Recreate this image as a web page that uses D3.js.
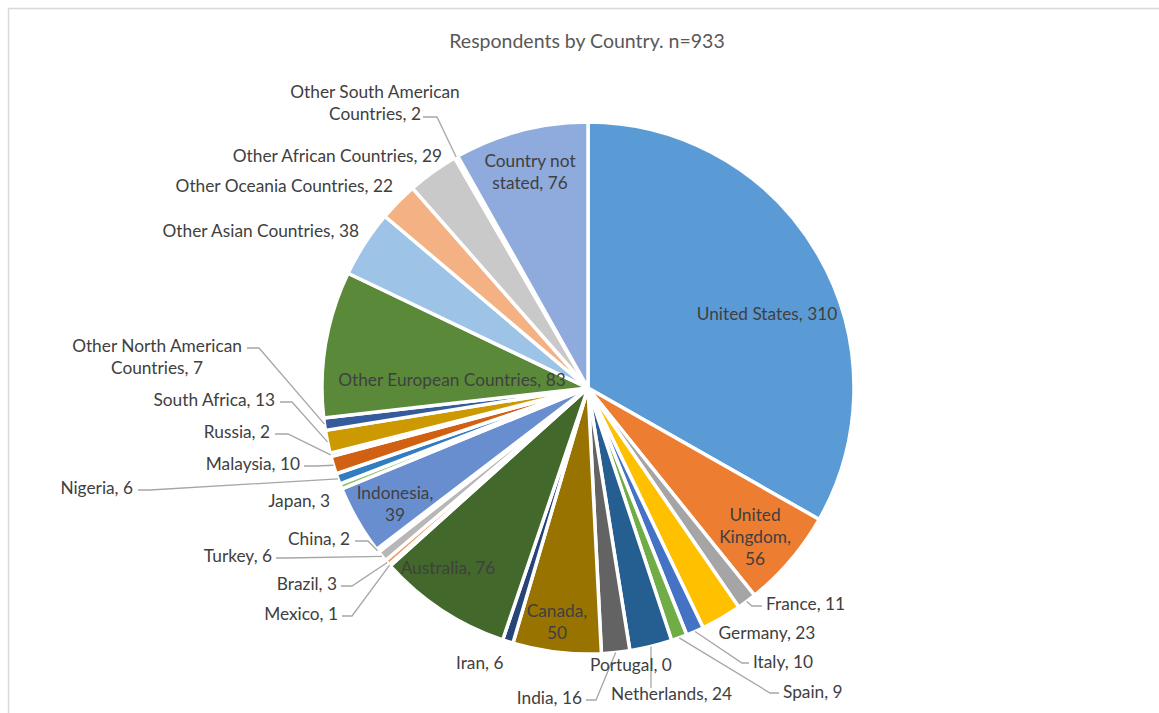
<!DOCTYPE html>
<html>
<head>
<meta charset="utf-8">
<script src="https://cdn.jsdelivr.net/npm/d3@7"></script>
<style>
  html, body { margin: 0; padding: 0; background: #fff; }
  svg { display: block; }
  text { font-family: Lato, "Open Sans", sans-serif; }
</style>
</head>
<body>
<svg id="chart" width="1159" height="713"></svg>
<script>
// Respondent counts by country, in slice order (clockwise from 12 o'clock)
const countries = [
  "United States", "United Kingdom", "France", "Germany", "Italy", "Spain",
  "Netherlands", "Portugal", "India", "Canada", "Iran", "Australia",
  "Mexico", "Brazil", "Turkey", "China", "Indonesia", "Japan",
  "Nigeria", "Malaysia", "Russia", "South Africa",
  "Other North American Countries", "Other European Countries",
  "Other Asian Countries", "Other Oceania Countries",
  "Other African Countries", "Other South American Countries",
  "Country not stated"
];
const respondents = [
  310, 56, 11, 23, 10, 9,
  24, 0, 16, 50, 6, 76,
  1, 3, 6, 2, 39, 3,
  6, 10, 2, 13,
  7, 83,
  38, 22,
  29, 2,
  76
];
const sliceColors = [
  "#5B9BD5", "#ED7D31", "#A5A5A5", "#FFC000", "#4472C4", "#70AD47",
  "#255E91", "#9E480E", "#636363", "#997300", "#264478", "#43682B",
  "#7CAFDD", "#F1975A", "#B7B7B7", "#FFCD33", "#698ED0", "#8CC168",
  "#327DC2", "#D26012", "#848484", "#CC9A00", "#365B9D", "#5A8A39",
  "#9DC3E6", "#F4B183", "#C9C9C9", "#FFD966", "#8FAADC"
];
const chartTitle = "Respondents by Country. n=933";

// Label placement: text lines, anchor point, and optional leader-line bend/end
const labelLayout = {
  "United States":      { lines: ["United States, 310"], x: 767, y: 320, anchor: "middle" },
  "United Kingdom":     { lines: ["United", "Kingdom,", "56"], x: 755, y: 521, anchor: "middle" },
  "France":             { lines: ["France, 11"], x: 766, y: 610, anchor: "start", bend: [752, 606], end: [762, 606] },
  "Germany":            { lines: ["Germany, 23"], x: 767, y: 639, anchor: "middle" },
  "Italy":              { lines: ["Italy, 10"], x: 753, y: 668, anchor: "start", bend: [742, 663], end: [749, 663] },
  "Spain":              { lines: ["Spain, 9"], x: 783, y: 698, anchor: "start", bend: [770, 693], end: [779, 693] },
  "Netherlands":        { lines: ["Netherlands, 24"], x: 611, y: 700, anchor: "start", bend: null, end: "vertical", endY: 688 },
  "Portugal":           { lines: ["Portugal, 0"], x: 590, y: 671, anchor: "start" },
  "India":              { lines: ["India, 16"], x: 582, y: 704, anchor: "end", bend: [596, 700], end: [586, 700] },
  "Canada":             { lines: ["Canada,", "50"], x: 557, y: 617, anchor: "middle" },
  "Iran":               { lines: ["Iran, 6"], x: 456, y: 669, anchor: "start" },
  "Australia":          { lines: ["Australia, 76"], x: 448, y: 574, anchor: "middle" },
  "Mexico":             { lines: ["Mexico, 1"], x: 338, y: 620, anchor: "end", bend: [352, 616], end: [342, 616] },
  "Brazil":             { lines: ["Brazil, 3"], x: 337, y: 590, anchor: "end", bend: [352, 586], end: [341, 586] },
  "Turkey":             { lines: ["Turkey, 6"], x: 272, y: 562, anchor: "end", bend: [286, 558], end: [276, 558] },
  "China":              { lines: ["China, 2"], x: 350, y: 545, anchor: "end", bend: [368, 541], end: [355, 541] },
  "Indonesia":          { lines: ["Indonesia,", "39"], x: 395, y: 499, anchor: "middle" },
  "Japan":              { lines: ["Japan, 3"], x: 330, y: 507, anchor: "end" },
  "Nigeria":            { lines: ["Nigeria, 6"], x: 133, y: 494, anchor: "end", bend: [150, 490], end: [138, 490] },
  "Malaysia":           { lines: ["Malaysia, 10"], x: 300, y: 470, anchor: "end", bend: [316, 466], end: [304, 466] },
  "Russia":             { lines: ["Russia, 2"], x: 270, y: 438, anchor: "end", bend: [288, 434], end: [275, 434] },
  "South Africa":       { lines: ["South Africa, 13"], x: 275, y: 406, anchor: "end", bend: [292, 402], end: [280, 402] },
  "Other North American Countries": { lines: ["Other North American", "Countries, 7"], x: 157, y: 352, anchor: "middle", bend: [259, 348], end: [247, 348] },
  "Other European Countries": { lines: ["Other European Countries, 83"], x: 452, y: 386, anchor: "middle" },
  "Other Asian Countries":    { lines: ["Other Asian Countries, 38"], x: 359, y: 237, anchor: "end" },
  "Other Oceania Countries":  { lines: ["Other Oceania Countries, 22"], x: 393, y: 192, anchor: "end" },
  "Other African Countries":  { lines: ["Other African Countries, 29"], x: 442, y: 162, anchor: "end" },
  "Other South American Countries": { lines: ["Other South American", "Countries, 2"], x: 375, y: 98, anchor: "middle", bend: [437, 117], end: [423, 117] },
  "Country not stated":       { lines: ["Country not", "stated, 76"], x: 530, y: 167, anchor: "middle" }
};

const width = 1159, height = 713;
const cx = 588, cy = 388, radius = 266;
const lineHeight = 22;
const labelSize = 17.3;

const svg = d3.select("#chart");

// chart-area frame
svg.append("rect")
  .attr("x", 8.5).attr("y", 8.5)
  .attr("width", width + 20).attr("height", height + 20)
  .attr("fill", "none")
  .attr("stroke", "#D9D9D9")
  .attr("stroke-width", 1.5);

svg.append("text")
  .attr("x", 587).attr("y", 48)
  .attr("text-anchor", "middle")
  .attr("font-size", 19.5)
  .attr("fill", "#595959")
  .text(chartTitle);

const data = countries.map((name, i) => ({ name, value: respondents[i], color: sliceColors[i] }));

const pie = d3.pie().value(d => d.value).sort(null);
const arcs = pie(data);

const arc = d3.arc().innerRadius(0).outerRadius(radius);

const g = svg.append("g").attr("transform", `translate(${cx},${cy})`);

g.selectAll("path.slice")
  .data(arcs.filter(a => a.data.value > 0))
  .join("path")
  .attr("class", "slice")
  .attr("d", arc)
  .attr("fill", d => d.data.color)
  .attr("stroke", "#fff")
  .attr("stroke-width", 3.5)
  .attr("stroke-linejoin", "round");

// point on the slice rim at its mid-angle, in page coordinates
function rimPoint(a) {
  const ang = (a.startAngle + a.endAngle) / 2;
  return [cx + radius * Math.sin(ang), cy - radius * Math.cos(ang)];
}

const leaders = svg.append("g");
const labels = svg.append("g");

arcs.forEach(a => {
  const L = labelLayout[a.data.name];
  if (!L) return;
  if (L.end) {
    const p = rimPoint(a);
    let pts;
    if (L.end === "vertical") {
      pts = [p, [p[0], L.endY]];
    } else {
      pts = [p, L.bend, L.end];
    }
    leaders.append("path")
      .attr("d", d3.line()(pts))
      .attr("fill", "none")
      .attr("stroke", "#A6A6A6")
      .attr("stroke-width", 1.3);
  }
  const t = labels.append("text")
    .attr("text-anchor", L.anchor)
    .attr("font-size", labelSize)
    .attr("fill", "#404040");
  L.lines.forEach((ln, i) => {
    t.append("tspan")
      .attr("x", L.x)
      .attr("y", L.y + i * lineHeight)
      .text(ln);
  });
});
</script>
</body>
</html>
